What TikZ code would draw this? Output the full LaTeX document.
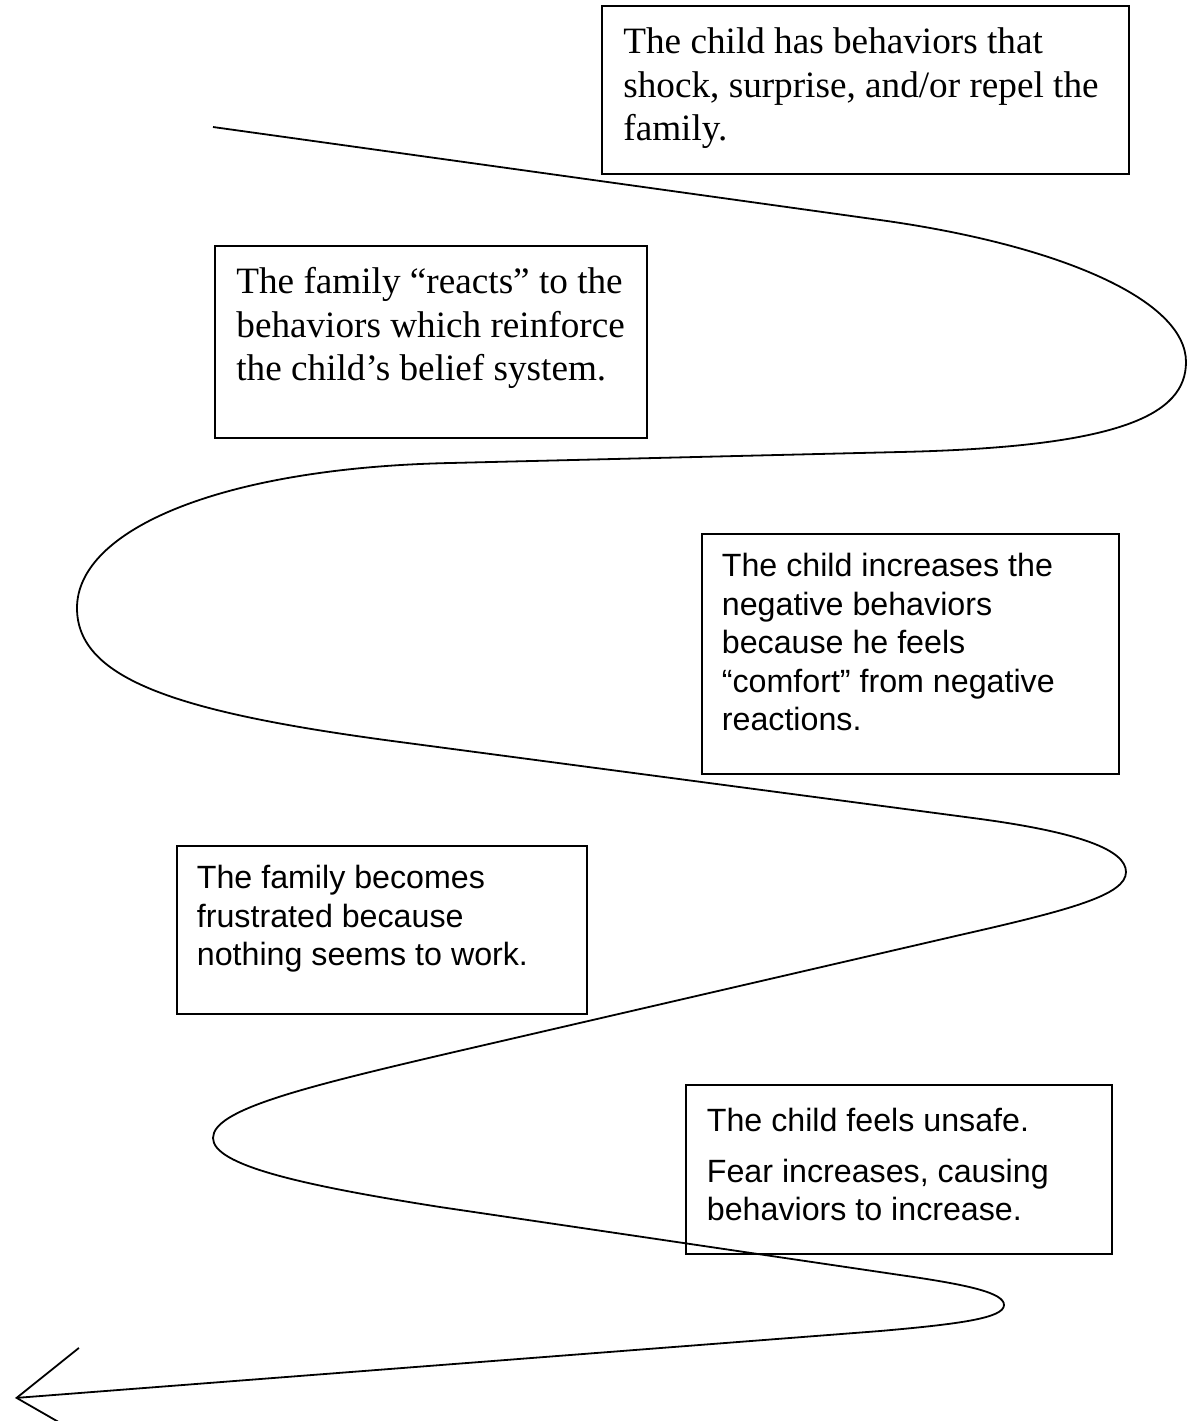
\documentclass[tikz,border=0pt]{standalone}
\usepackage{fontspec}
\setmainfont{Liberation Serif}
\newfontfamily\arialfont{Liberation Sans}
\usetikzlibrary{arrows.meta,positioning}

\tikzset{
  stagebox/.style={draw, line width=0.9pt, anchor=north west, align=flush left, inner ysep=0pt},
  serifbox/.style={stagebox, font=\fontsize{18.6}{21.75}\selectfont, inner xsep=10.75pt, text height=24pt},
  sansbox/.style={stagebox, font=\arialfont\fontsize{16.1}{19.25}\selectfont, inner xsep=10pt, text height=21.5pt},
  spiral/.style={line width=0.9pt},
}

\begin{document}
\begin{tikzpicture}[x=0.5pt,y=-0.5pt]
  \useasboundingbox (0,0) rectangle (1187,1421);
  % the five stages of the cycle
  \node[serifbox, text width=242pt, text depth=60pt] (stage1) at (601,5)
    {The child has behaviors that\\ shock, surprise, and/or repel the\\ family.};
  \node[serifbox, text width=194.5pt, text depth=72pt] (stage2) at (214,245)
    {The family “reacts” to the\\ behaviors which reinforce\\ the child’s belief system.};
  \node[sansbox, text width=188.5pt, text depth=98.5pt] (stage3) at (701,533)
    {The child increases the\\ negative behaviors\\ because he feels\\ “comfort” from negative\\ reactions.};
  \node[sansbox, text width=185pt, text depth=62.5pt] (stage4) at (176,845)
    {The family becomes\\ frustrated because\\ nothing seems to work.};
  \node[sansbox, inner xsep=10.5pt, text width=192pt, text height=23.5pt, text depth=61pt] (stage5) at (685,1084)
    {The child feels unsafe.\\[6pt] Fear increases, causing\\ behaviors to increase.};
  % turning points of the spiral
  \coordinate (start) at (213,127);
  \coordinate (turn1) at (1186,362);
  \coordinate (turn2) at (77,608);
  \coordinate (turn3) at (1126,872);
  \coordinate (turn4) at (213,1138);
  \coordinate (turn5) at (1004,1305);
  \coordinate (finish) at (15,1398);
  % the spiral, winding down to the arrow
  \draw[spiral, -{Straight Barb[length=33pt,width=45pt]}] (start) -- (880,220)
    .. controls (1060,245) and (1186,300) .. (turn1)
    .. controls (1186,415) and (1120,447) .. (900,452) -- (450,463)
    .. controls (220,468) and (77,530) .. (turn2)
    .. controls (77,680) and (180,713) .. (400,742) -- (973,818)
    .. controls (1080,832) and (1126,850) .. (turn3)
    .. controls (1126,895) and (1070,910) .. (960,935) -- (450,1053)
    .. controls (300,1088) and (213,1110) .. (turn4)
    .. controls (213,1165) and (300,1185) .. (440,1207) -- (900,1275)
    .. controls (970,1285) and (1004,1293) .. (turn5)
    .. controls (1004,1318) and (960,1324) .. (880,1331) -- (finish);
\end{tikzpicture}
\end{document}
